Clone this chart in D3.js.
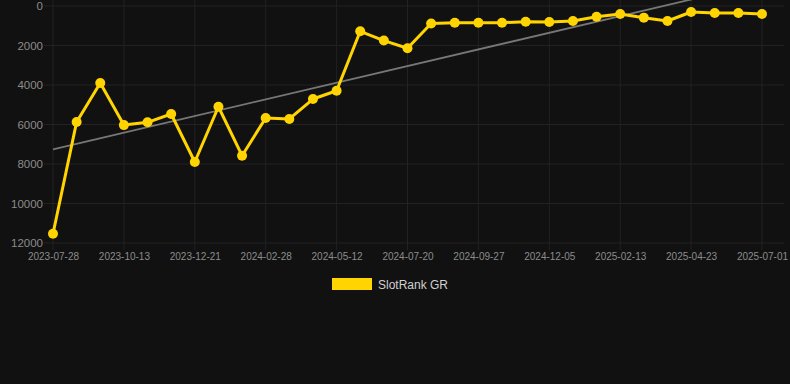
<!DOCTYPE html>
<html>
<head>
<meta charset="utf-8">
<script src="https://cdn.jsdelivr.net/npm/d3@7"></script>
<style>
  html, body { margin: 0; padding: 0; background: #111111; }
  svg { display: block; }
  text { font-family: "Liberation Sans", Arial, Helvetica, sans-serif; }
</style>
</head>
<body>
<svg id="chart" width="790" height="384"></svg>
<script>
const dates = [
  "2023-07-28","2023-08-23","2023-09-18","2023-10-13","2023-11-05","2023-11-28",
  "2023-12-21","2024-01-13","2024-02-05","2024-02-28","2024-03-23","2024-04-17",
  "2024-05-12","2024-06-04","2024-06-27","2024-07-20","2024-08-12","2024-09-04",
  "2024-09-27","2024-10-20","2024-11-12","2024-12-05","2024-12-28","2025-01-20",
  "2025-02-13","2025-03-08","2025-03-31","2025-04-23","2025-05-16","2025-06-08",
  "2025-07-01"
];
const rankValues = [
  11530, 5870, 3900, 6030, 5890, 5470,
  7900, 5100, 7580, 5670, 5720, 4710,
  4290, 1280, 1750, 2140, 890, 845,
  845, 845, 795, 810, 760, 540,
  405, 590, 760, 305, 355, 355,
  405
];
const yTicks = [0, 2000, 4000, 6000, 8000, 10000, 12000];
const seriesName = "SlotRank GR";

const W = 790, H = 384;
const margin = { left: 53, right: 28, top: 6, bottom: 141 };
const svg = d3.select("#chart");

const x = d3.scalePoint().domain(dates).range([margin.left, W - margin.right]);
const y = d3.scaleLinear().domain([0, 12000]).range([margin.top, H - margin.bottom]);

const gridColor = "#222222";
const tickColor = "#8c8c8c";
const yellow = "#FFD400";

// horizontal grid + y labels
const yAxis = d3.axisLeft(y).tickValues(yTicks).tickSize(0).tickPadding(10).tickFormat(d3.format("d"));
const gy = svg.append("g").attr("transform", `translate(${margin.left},0)`).call(yAxis);
gy.select(".domain").remove();
gy.selectAll("text").attr("fill", tickColor).attr("font-size", "11.5px");
svg.append("g").selectAll("line").data(yTicks).join("line")
  .attr("x1", margin.left - 9).attr("x2", W - 6)
  .attr("y1", d => y(d)).attr("y2", d => y(d))
  .attr("stroke", gridColor).attr("stroke-width", 1);

// vertical grid + x labels (every 3rd category)
const labeled = dates.filter((d, i) => i % 3 === 0);
const xAxis = d3.axisBottom(x).tickValues(labeled).tickSize(0).tickPadding(10);
const gx = svg.append("g").attr("transform", `translate(0,${y(12000)})`).call(xAxis);
gx.select(".domain").remove();
gx.selectAll("text").attr("fill", tickColor).attr("font-size", "10px");
svg.append("g").selectAll("line").data(labeled).join("line")
  .attr("x1", d => x(d)).attr("x2", d => x(d))
  .attr("y1", margin.top - 6).attr("y2", y(12000) + 7)
  .attr("stroke", gridColor).attr("stroke-width", 1);

// linear regression trend line
const n = rankValues.length;
const xi = d3.range(n);
const mx = d3.mean(xi), my = d3.mean(rankValues);
const slope = d3.sum(xi, i => (i - mx) * (rankValues[i] - my)) / d3.sum(xi, i => (i - mx) ** 2);
const intercept = my - slope * mx;
svg.append("line")
  .attr("x1", x(dates[0])).attr("y1", y(intercept))
  .attr("x2", x(dates[n - 1])).attr("y2", y(intercept + slope * (n - 1)))
  .attr("stroke", "#777777").attr("stroke-width", 1.8);

// series line
const line = d3.line().x((d, i) => x(dates[i])).y(d => y(d));
svg.append("path").datum(rankValues)
  .attr("d", line).attr("fill", "none")
  .attr("stroke", yellow).attr("stroke-width", 3).attr("stroke-linejoin", "round");

svg.append("g").selectAll("circle").data(rankValues).join("circle")
  .attr("cx", (d, i) => x(dates[i])).attr("cy", d => y(d))
  .attr("r", 5).attr("fill", yellow);

// legend
const lg = svg.append("g");
lg.append("rect").attr("x", 332).attr("y", 278).attr("width", 40).attr("height", 12).attr("fill", yellow);
lg.append("text").attr("x", 378).attr("y", 288.5).attr("fill", "#d0d0d0").attr("font-size", "12px").text(seriesName);
</script>
</body>
</html>
